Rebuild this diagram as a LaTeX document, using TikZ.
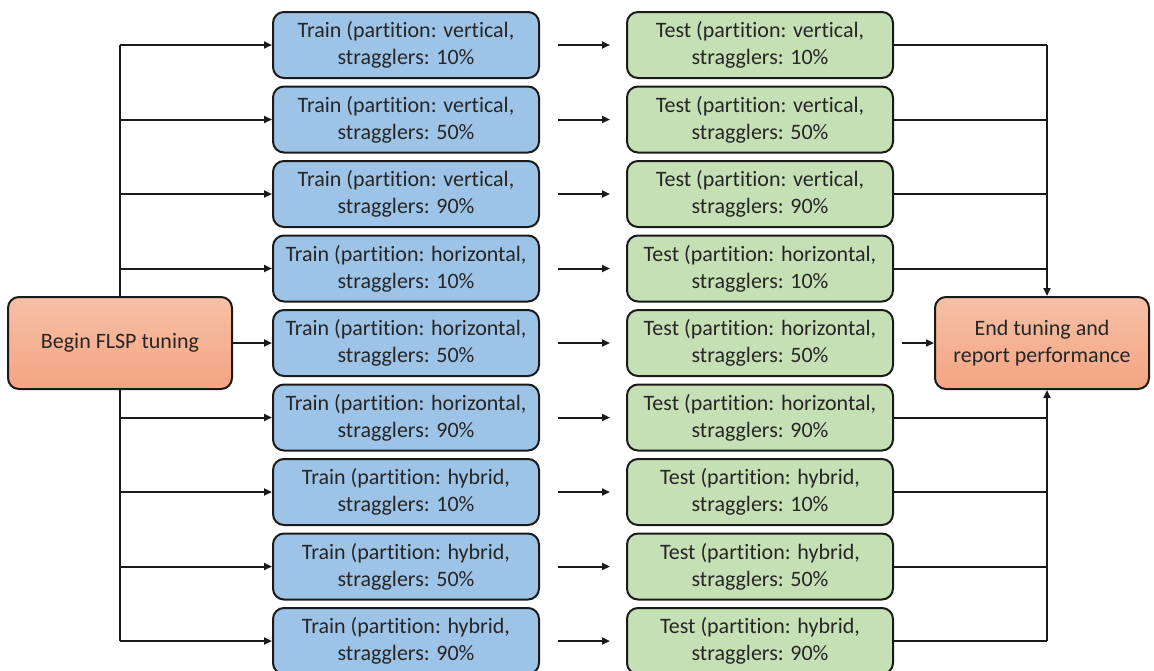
\documentclass[tikz,border=0pt]{standalone}
\usepackage{fontspec}
\setmainfont{Carlito}[Ligatures=NoCommon]
\usetikzlibrary{arrows.meta}
\definecolor{trainfill}{HTML}{9DC3E6}
\definecolor{testfill}{HTML}{C5E0B4}
\definecolor{orangetop}{HTML}{F6C0A6}
\definecolor{orangebot}{HTML}{F4A482}
\definecolor{edge}{HTML}{1A1A1A}
\definecolor{txt}{HTML}{262626}
\tikzset{
  box/.style={draw=edge, line width=2pt, rounded corners=11pt, minimum width=266pt, minimum height=66pt, inner sep=0pt, align=center, text=txt, font=\fontsize{22}{27}\selectfont},
  trainbox/.style={box, fill=trainfill},
  testbox/.style={box, fill=testfill},
  endbox/.style={box, top color=orangetop, bottom color=orangebot, minimum height=92pt},
  conn/.style={draw=edge, line width=2pt},
  arr/.style={conn, -{Triangle[length=8pt,width=7pt]}},
}
\begin{document}
\begin{tikzpicture}[x=1pt,y=-1pt]
\useasboundingbox (0,0) rectangle (1154,670);
\fill[white] (0,0) rectangle (1154,670);
% left trunk
\coordinate (ltop) at (120,45);
\coordinate (lbot) at (120,641);
\draw[conn] (ltop) -- (lbot);
% right trunks
\coordinate (rtop) at (1047,45);
\coordinate (rbot) at (1047,641);
\foreach \i/\p/\s in {1/vertical/10, 2/vertical/50, 3/vertical/90, 4/horizontal/10, 5/horizontal/50, 6/horizontal/90, 7/hybrid/10, 8/hybrid/50, 9/hybrid/90}{
  \pgfmathsetmacro{\yy}{45+74.5*(\i-1)}
  \node[trainbox] (train\i) at (406,\yy) {Train (partition: \p,\\stragglers: \s\%};
  \node[testbox] (test\i) at (760,\yy) {Test (partition: \p,\\stragglers: \s\%};
  \coordinate (a\i) at (558,\yy);
  \coordinate (b\i) at (610,\yy);
  \draw[arr] (a\i) -- (b\i);
  \coordinate (l\i) at (120,\yy);
  \coordinate (r\i) at (1047,\yy);
}
\node[endbox, minimum width=224pt] (begin) at (120,343) {Begin FLSP tuning};
\node[endbox, minimum width=214pt] (end) at (1042,343) {End tuning and\\report performance};
\foreach \i in {1,2,3,4,6,7,8,9}{
  \draw[arr] (l\i) -- (train\i.west);
}
\draw[arr] (begin.east) -- (train5.west);
\foreach \i in {1,2,3,4,6,7,8,9}{
  \draw[conn] (test\i.east) -- (r\i);
}
\draw[arr] (rtop) -- (end.north -| rtop);
\draw[arr] (rbot) -- (end.south -| rbot);
\coordinate (c5) at (902,343);
\draw[arr] (c5) -- (end.west);
\end{tikzpicture}
\end{document}
